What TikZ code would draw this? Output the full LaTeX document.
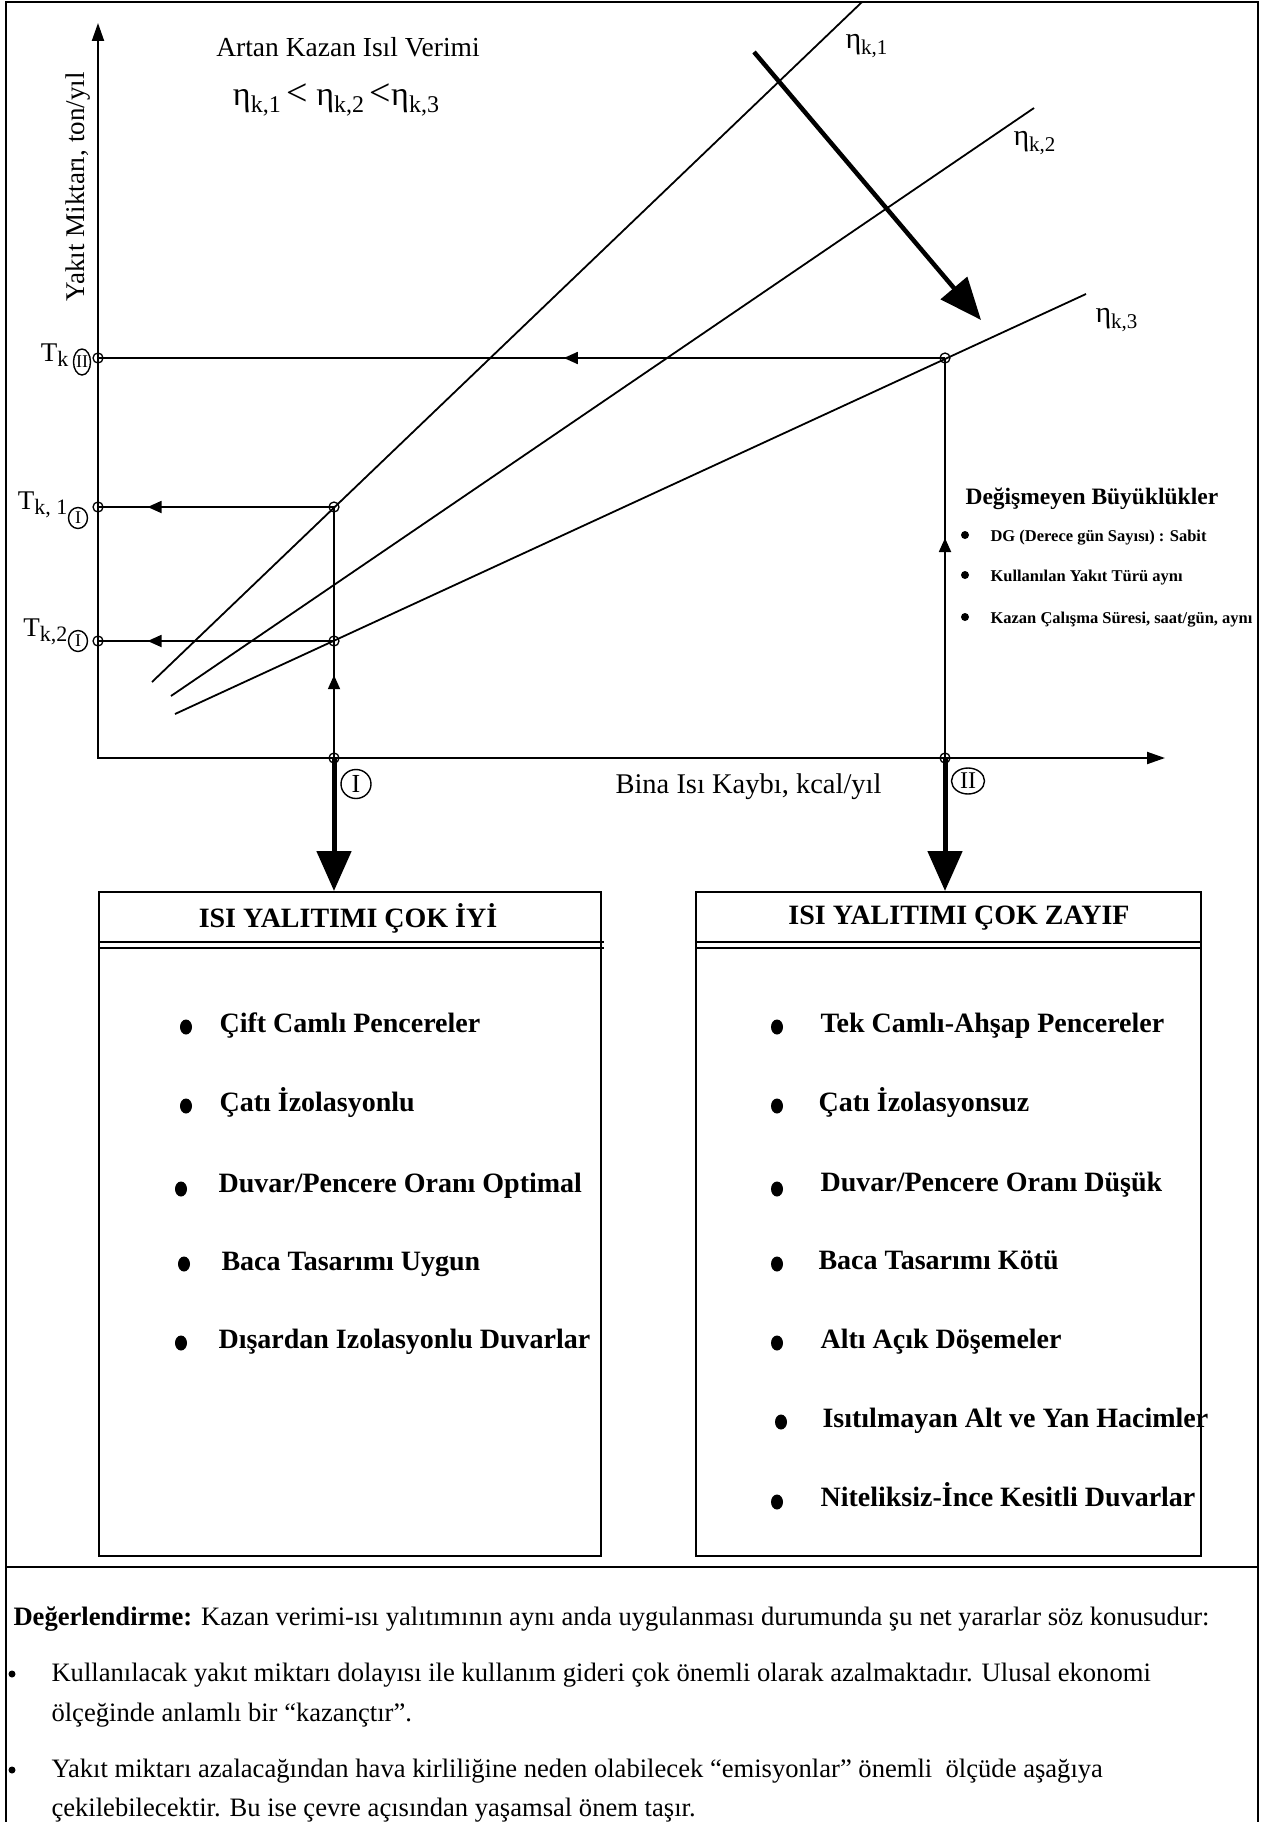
\documentclass[tikz,border=0pt]{standalone}
\usepackage{fontspec}
\setmainfont{Liberation Serif}
\usepackage{graphicx}
\usetikzlibrary{arrows.meta,decorations.markings,shapes.geometric}
\newcommand\myfs[1]{\fontsize{#1}{#1}\selectfont}
\newcommand\etalab[1]{η\raisebox{-6pt}{\myfs{21}k,#1}}
\newcommand\etabig[1]{η\raisebox{-7pt}{\myfs{24}k,#1}}
\newcommand\tklab[1]{T\raisebox{-5pt}{\myfs{22}k#1}}
\begin{document}
\begin{tikzpicture}[x=1pt,y=-1pt,
  gline/.style={line width=1.8pt},
  frameline/.style={line width=1.8pt},
  ptc/.style={circle,draw,line width=1.3pt,minimum size=10pt,inner sep=0pt},
  midarrow/.style={postaction={decorate},decoration={markings,mark=at position #1 with {\arrow{Triangle[length=14pt,width=12pt]}}}},
  bigarrow/.style={line width=5pt,-{Triangle[length=40pt,width=34pt]}},
  roman/.style={ellipse,draw,line width=1.4pt,inner sep=0pt},
  boxitem/.style={anchor=base west,font=\bfseries\myfs{28}},
  smallitem/.style={anchor=base west,font=\bfseries\myfs{16.5}},
  bottomtext/.style={anchor=base west,font=\myfs{26.6}},
  listbox/.style={draw,line width=2.2pt,anchor=north west,inner sep=0pt}]
\useasboundingbox (0,0) rectangle (1263,1822);
\fill[white] (0,0) rectangle (1263,1822);
% frame
\draw[frameline] (6,1822) -- (6,2) -- (1258,2) -- (1258,1822);
\draw[frameline] (6,1567) -- (1258,1567);

% axes
\coordinate (O) at (98,758);
\coordinate (ytop) at (98,23);
\coordinate (xend) at (1165,758);
\draw[line width=2pt,{Triangle[length=18pt,width=12pt]}-{Triangle[length=18pt,width=12pt]}] (ytop) -- (O) -- (xend);

% points
\node[ptc] (yII) at (98,358) {};
\node[ptc] (y1) at (98,507) {};
\node[ptc] (y2) at (98,641) {};
\node[ptc] (p1) at (334,507) {};
\node[ptc] (p2) at (334,641) {};
\node[ptc] (xI) at (334,758) {};
\node[ptc] (pII) at (945,358) {};
\node[ptc] (xII) at (945,758) {};

% efficiency lines
\coordinate (e1a) at (152,682); \coordinate (e1b) at (862,2);
\coordinate (e2a) at (171,696); \coordinate (e2b) at (1034,108);
\coordinate (e3a) at (175,714); \coordinate (e3b) at (1086,294);
\draw[gline] (e1a) -- (e1b);
\draw[gline] (e2a) -- (e2b);
\draw[gline] (e3a) -- (e3b);

% projection lines
\draw[gline,midarrow=0.45] (pII.center) -- (yII.center);
\draw[gline,midarrow=0.79] (p1.center) -- (y1.center);
\draw[gline,midarrow=0.79] (p2.center) -- (y2.center);
\draw[gline,midarrow=0.33] (xI.center) -- (p1.center);
\draw[gline,midarrow=0.55] (xII.center) -- (pII.center);

% big diagonal arrow
\coordinate (ba1) at (754,52);
\coordinate (ba2) at (981,320);
\draw[line width=4.5pt,-{Triangle[length=42pt,width=34pt]}] (ba1) -- (ba2);

% texts in graph
\node[font=\myfs{27.5}] (title) at (348,47) {Artan Kazan Isıl Verimi};
\node[font=\myfs{34}] (ineq) at (336,100) {\etabig{1}\,{\myfs{38}<}\ \etabig{2}\,{\myfs{38}<}\etabig{3}};
\node[rotate=90,font=\myfs{27}] (ylab) at (78,187) {Yakıt Miktarı, ton/yıl};
\node[anchor=west,font=\myfs{28.5}] (xlab) at (612,787) {Bina Isı Kaybı, kcal/yıl};
\node[anchor=west,font=\myfs{30}] (eta1) at (842,46) {\etalab{1}};
\node[anchor=west,font=\myfs{30}] (eta2) at (1010,143) {\etalab{2}};
\node[anchor=west,font=\myfs{30}] (eta3) at (1092,320) {\etalab{3}};

\node[anchor=east,font=\myfs{27}] (tkII) at (72,355) {\tklab{}};
\node[roman,minimum width=17pt,minimum height=26pt,font=\myfs{18}] (rtkII) at (82,362) {II};
\node[anchor=east,font=\myfs{27}] (tk1) at (71,505) {\tklab{, 1}};
\node[roman,minimum width=19pt,minimum height=21pt,font=\myfs{18}] (rtk1) at (78,518) {I};
\node[anchor=east,font=\myfs{27}] (tk2) at (71,632) {\tklab{,2}};
\node[roman,minimum width=19pt,minimum height=21pt,font=\myfs{18}] (rtk2) at (78,641) {I};
\node[roman,minimum width=30pt,minimum height=29pt,font=\myfs{26}] (rI) at (356,784) {I};
\node[roman,minimum width=33pt,minimum height=26pt,font=\myfs{24}] (rII) at (968,781) {II};

% constant quantities
\node[anchor=west,font=\bfseries\myfs{23.5}] (const) at (962,499) {Değişmeyen Büyüklükler};
\fill (965,535) circle (4pt);
\node[smallitem] (c1) at (987,541) {DG (Derece gün Sayısı) : Sabit};
\fill (965,575) circle (4pt);
\node[smallitem] (c2) at (987,581) {Kullanılan Yakıt Türü aynı};
\fill (965,617) circle (4pt);
\node[smallitem] (c3) at (987,623) {Kazan Çalışma Süresi, saat/gün, aynı};

% boxes
\node[listbox,minimum width=502pt,minimum height=664pt] (boxL) at (98,891) {};
\node[listbox,minimum width=505pt,minimum height=664pt] (boxR) at (695,891) {};
\draw[bigarrow] (xI.center) -- (xI |- boxL.north);
\draw[bigarrow] (xII.center) -- (xII |- boxR.north);
\draw[line width=1.6pt] (98,942) -- (604,942) (98,948) -- (604,948);
\draw[line width=1.6pt] (695,942) -- (1200,942) (695,948) -- (1200,948);
\node[font=\bfseries\myfs{28}] (hL) at (348,918) {ISI YALITIMI ÇOK İYİ};
\node[font=\bfseries\myfs{28}] (hR) at (959,918) {ISI YALITIMI ÇOK ZAYIF};

% left list
\fill (186,1027) ellipse (6pt and 7.5pt);
\node[boxitem] (l1) at (216,1032) {Çift Camlı Pencereler};
\fill (186,1106) ellipse (6pt and 7.5pt);
\node[boxitem] (l2) at (216,1111) {Çatı İzolasyonlu};
\fill (181,1189) ellipse (6pt and 7.5pt);
\node[boxitem] (l3) at (215,1192) {Duvar/Pencere Oranı Optimal};
\fill (184,1264) ellipse (6pt and 7.5pt);
\node[boxitem] (l4) at (218,1270) {Baca Tasarımı Uygun};
\fill (181,1343) ellipse (6pt and 7.5pt);
\node[boxitem] (l5) at (215,1348) {Dışardan Izolasyonlu Duvarlar};

% right list
\fill (777,1027) ellipse (6pt and 7.5pt);
\node[boxitem] (r1) at (817,1032) {Tek Camlı-Ahşap Pencereler};
\fill (777,1106) ellipse (6pt and 7.5pt);
\node[boxitem] (r2) at (815,1111) {Çatı İzolasyonsuz};
\fill (777,1189) ellipse (6pt and 7.5pt);
\node[boxitem] (r3) at (817,1191) {Duvar/Pencere Oranı Düşük};
\fill (777,1264) ellipse (6pt and 7.5pt);
\node[boxitem] (r4) at (815,1269) {Baca Tasarımı Kötü};
\fill (777,1343) ellipse (6pt and 7.5pt);
\node[boxitem] (r5) at (817,1348) {Altı Açık Döşemeler};
\fill (781,1422) ellipse (6pt and 7.5pt);
\node[boxitem] (r6) at (819,1427) {Isıtılmayan Alt ve Yan Hacimler};
\fill (777,1502) ellipse (6pt and 7.5pt);
\node[boxitem] (r7) at (817,1506) {Niteliksiz-İnce Kesitli Duvarlar};

% bottom text
\node[bottomtext] (ev) at (10,1625) {\textbf{Değerlendirme:} Kazan verimi-ısı yalıtımının aynı anda uygulanması durumunda şu net yararlar söz konusudur:};
\fill (12,1674) circle (3.5pt);
\node[bottomtext] (b1a) at (48,1681) {Kullanılacak yakıt miktarı dolayısı ile kullanım gideri çok önemli olarak azalmaktadır. Ulusal ekonomi};
\node[bottomtext] (b1b) at (48,1721) {ölçeğinde anlamlı bir “kazançtır”.};
\fill (12,1770) circle (3.5pt);
\node[bottomtext] (b2a) at (48,1777) {Yakıt miktarı azalacağından hava kirliliğine neden olabilecek “emisyonlar” önemli\ \ ölçüde aşağıya};
\node[bottomtext] (b2b) at (48,1816) {çekilebilecektir. Bu ise çevre açısından yaşamsal önem taşır.};
\end{tikzpicture}
\end{document}
